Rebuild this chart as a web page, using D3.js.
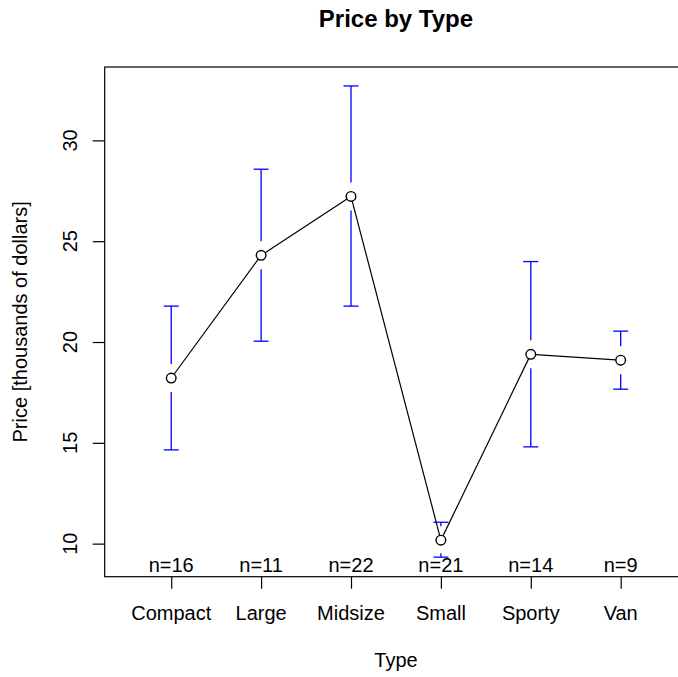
<!DOCTYPE html>
<html lang="en">
<head>
    <meta charset="UTF-8">
    <title>Price by Type</title>
    <script src="https://d3js.org/d3.v7.min.js"></script>
    <style>
        body {
            margin: 0;
            font-family: "Liberation Sans", Arial, sans-serif;
            background: #fff;
        }
        .tick-label, .n-label, .axis-label {
            font-size: 20px;
            fill: #000;
        }
        .title {
            font-size: 24px;
            font-weight: bold;
        }
    </style>
</head>
<body>
    <div id="chart"></div>

    <script>
        // Data
        const types = ["Compact", "Large", "Midsize", "Small", "Sporty", "Van"];
        const counts = [16, 11, 22, 21, 14, 9];
        const means = [18.21, 24.30, 27.22, 10.17, 19.39, 19.10];
        const upper = [21.78, 28.57, 32.70, 11.06, 23.99, 20.54];
        const lower = [14.65, 20.04, 21.78, 9.33, 14.80, 17.66];
        const yTicks = [10, 15, 20, 25, 30];

        const W = 678, H = 677;
        // plot region (right side runs past the window, as in the original)
        const plot = { left: 104.7, right: 687.2, top: 67, bottom: 576.7 };

        const svg = d3.select("#chart")
                      .append("svg")
                      .attr("width", W)
                      .attr("height", H);

        const x = d3.scaleLinear()
                    .domain([0.26, types.length + 0.74])
                    .range([plot.left, plot.right]);

        const y = d3.scaleLinear()
                    .domain([8.36, 33.64])
                    .range([plot.bottom, plot.top]);

        const idx = d3.range(types.length);
        const gap = 14, capHalf = 7.5, r = 4.8;

        // box
        svg.append("rect")
           .attr("x", plot.left)
           .attr("y", plot.top)
           .attr("width", plot.right - plot.left)
           .attr("height", plot.bottom - plot.top)
           .attr("fill", "none")
           .attr("stroke", "#000")
           .attr("stroke-width", 1.2);

        // y axis
        const yAxis = svg.append("g")
           .attr("transform", `translate(${plot.left},0)`)
           .call(d3.axisLeft(y).tickValues(yTicks).tickSize(12).tickFormat(""));
        yAxis.select(".domain").remove();
        yAxis.selectAll("line").attr("stroke-width", 1.2);

        svg.selectAll(".ytl")
           .data(yTicks)
           .join("text")
           .attr("class", "tick-label")
           .attr("text-anchor", "middle")
           .attr("transform", d => `translate(77,${y(d)}) rotate(-90)`)
           .text(d => d);

        // x axis
        const xAxis = svg.append("g")
           .attr("transform", `translate(0,${plot.bottom})`)
           .call(d3.axisBottom(x).tickValues(idx.map(i => i + 1)).tickSize(12).tickFormat(""));
        xAxis.select(".domain").remove();
        xAxis.selectAll("line").attr("stroke-width", 1.2);

        svg.selectAll(".xtl")
           .data(idx)
           .join("text")
           .attr("class", "tick-label")
           .attr("text-anchor", "middle")
           .attr("x", i => x(i + 1))
           .attr("y", 620)
           .text(i => types[i]);

        // confidence bars (gap around the mean point)
        const bars = svg.append("g")
                        .attr("stroke", "#0000ff")
                        .attr("stroke-width", 1.3)
                        .attr("fill", "none");

        idx.forEach(i => {
            const cx = x(i + 1), cy = y(means[i]);
            const yu = y(upper[i]), yl = y(lower[i]);
            bars.append("line")
                .attr("x1", cx - capHalf).attr("x2", cx + capHalf)
                .attr("y1", yu).attr("y2", yu);
            bars.append("line")
                .attr("x1", cx - capHalf).attr("x2", cx + capHalf)
                .attr("y1", yl).attr("y2", yl);
            bars.append("line")
                .attr("x1", cx).attr("x2", cx)
                .attr("y1", yu).attr("y2", Math.max(yu + 4, cy - gap));
            bars.append("line")
                .attr("x1", cx).attr("x2", cx)
                .attr("y1", yl).attr("y2", Math.min(yl - 4, cy + gap));
        });

        // connecting line, stopped at the circle edge
        const pts = idx.map(i => [x(i + 1), y(means[i])]);
        for (let k = 0; k < pts.length - 1; k++) {
            const [x0, y0] = pts[k], [x1, y1] = pts[k + 1];
            const len = Math.hypot(x1 - x0, y1 - y0);
            const ux = (x1 - x0) / len, uy = (y1 - y0) / len;
            svg.append("line")
               .attr("x1", x0 + ux * r).attr("y1", y0 + uy * r)
               .attr("x2", x1 - ux * r).attr("y2", y1 - uy * r)
               .attr("stroke", "#000")
               .attr("stroke-width", 1.2);
        }

        svg.selectAll(".pt")
           .data(idx)
           .join("circle")
           .attr("cx", i => x(i + 1))
           .attr("cy", i => y(means[i]))
           .attr("r", r)
           .attr("fill", "none")
           .attr("stroke", "#000")
           .attr("stroke-width", 1.4);

        // n= labels along the bottom
        svg.selectAll(".nl")
           .data(idx)
           .join("text")
           .attr("class", "n-label")
           .attr("text-anchor", "middle")
           .attr("x", i => x(i + 1))
           .attr("y", 572)
           .text(i => "n=" + counts[i]);

        // titles
        svg.append("text")
           .attr("class", "title")
           .attr("text-anchor", "middle")
           .attr("x", (plot.left + plot.right) / 2)
           .attr("y", 27)
           .text("Price by Type");

        svg.append("text")
           .attr("class", "axis-label")
           .attr("text-anchor", "middle")
           .attr("x", (plot.left + plot.right) / 2)
           .attr("y", 667)
           .text("Type");

        svg.append("text")
           .attr("class", "axis-label")
           .attr("text-anchor", "middle")
           .attr("transform", `translate(27,${(plot.top + plot.bottom) / 2}) rotate(-90)`)
           .text("Price [thousands of dollars]");
    </script>
</body>
</html>
